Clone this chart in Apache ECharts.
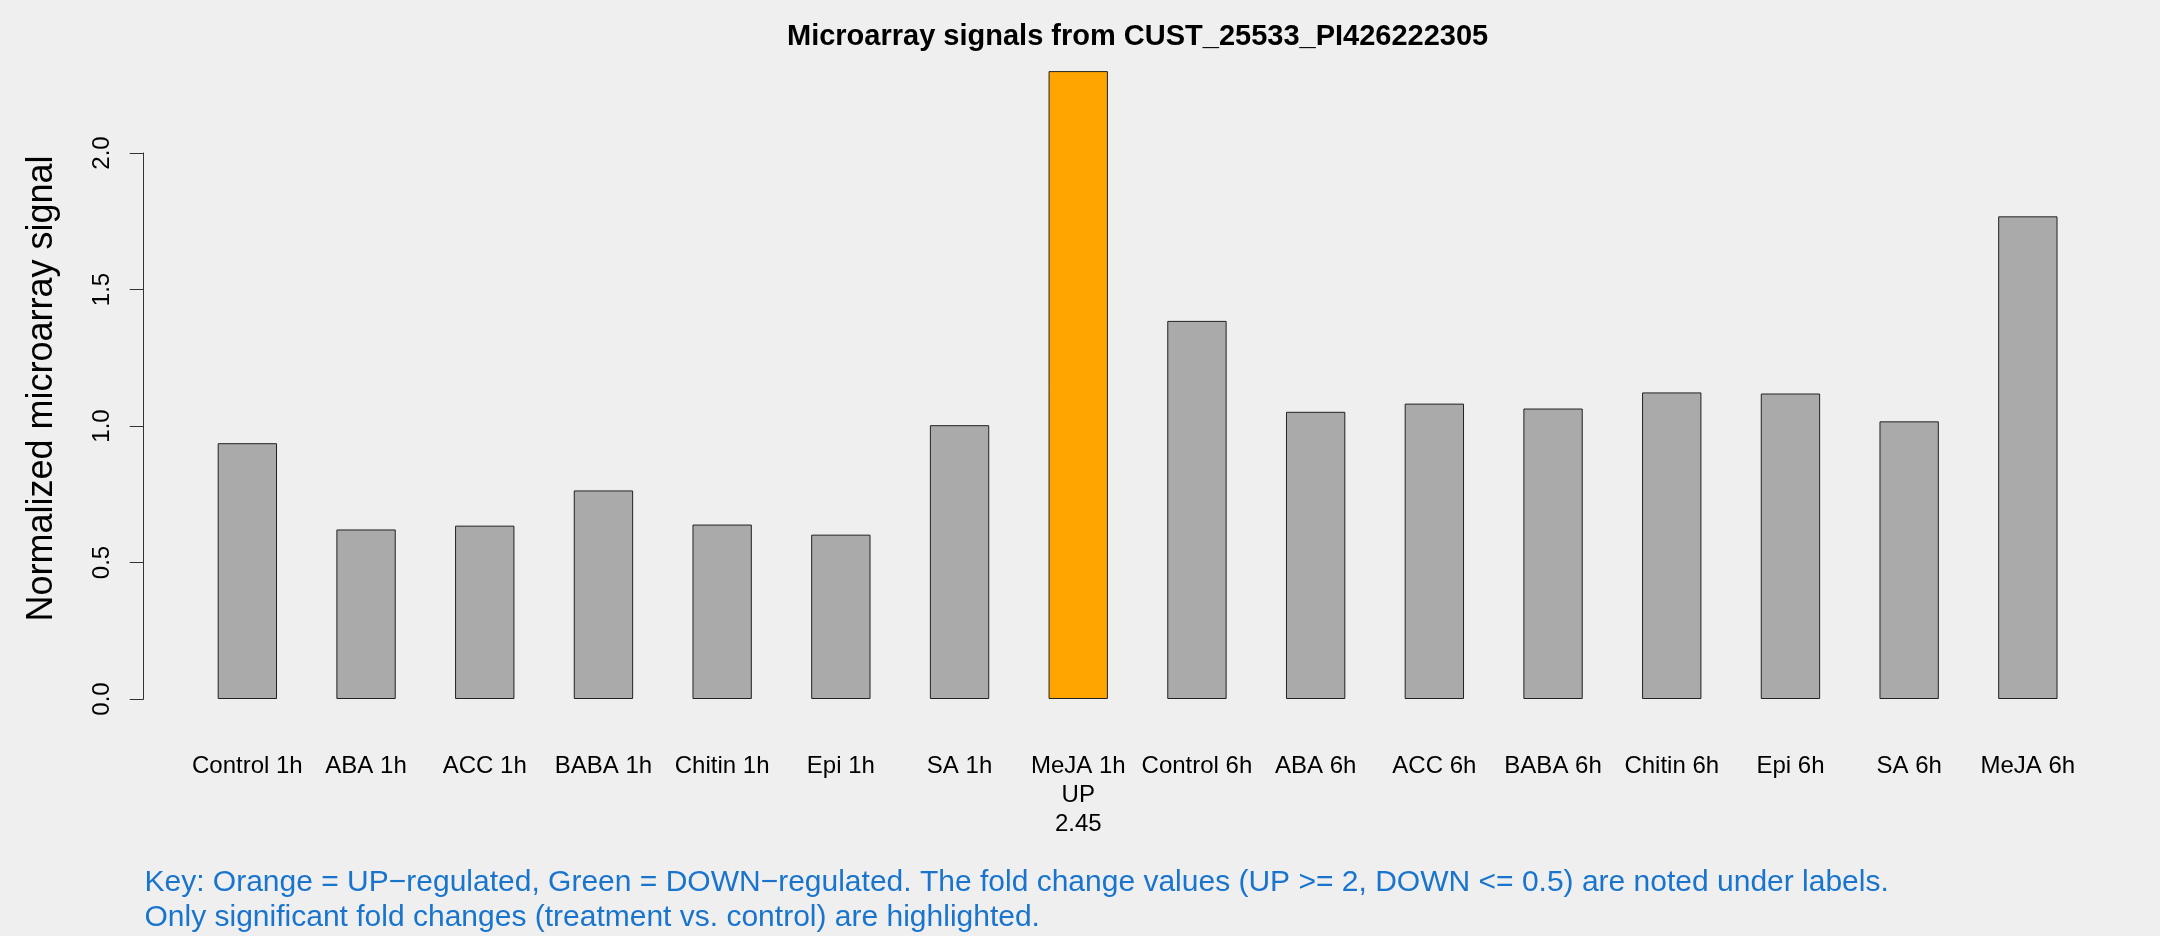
<!DOCTYPE html>
<html>
<head>
<meta charset="utf-8">
<script src="https://cdn.jsdelivr.net/npm/echarts@6/dist/echarts.min.js"></script>
<style>
html,body{margin:0;padding:0;background:#EFEFEF;}
#chart{width:2160px;height:936px;}
</style>
</head>
<body>
<div id="chart"></div>
<script>
const categories = ["Control 1h","ABA 1h","ACC 1h","BABA 1h","Chitin 1h","Epi 1h","SA 1h","MeJA 1h","Control 6h","ABA 6h","ACC 6h","BABA 6h","Chitin 6h","Epi 6h","SA 6h","MeJA 6h"];
const values = [0.937, 0.621, 0.635, 0.764, 0.639, 0.602, 1.003, 2.30, 1.385, 1.052, 1.082, 1.064, 1.123, 1.119, 1.017, 1.768];
const regulation = ["","","","","","","","UP","","","","","","","",""];
const foldChange = ["","","","","","","","2.45","","","","","","","",""];
const yTicks = [0, 0.5, 1.0, 1.5, 2.0];

const titleText = "Microarray signals from CUST_25533_PI426222305";
const yTitle = "Normalized microarray signal";
const keyText = "Key: Orange = UP\u2212regulated, Green = DOWN\u2212regulated. The fold change values (UP >= 2, DOWN <= 0.5) are noted under labels.\nOnly significant fold changes (treatment vs. control) are highlighted.";

const colorFor = r => r === "UP" ? "#FFA500" : (r === "DOWN" ? "#00A000" : "#AAAAAA");
const FONT = "Liberation Sans, Arial, Helvetica, sans-serif";

const chart = echarts.init(document.getElementById('chart'), null, {renderer: 'canvas'});
chart.setOption({
  backgroundColor: '#EFEFEF',
  animation: false,
  textStyle: {fontFamily: FONT},
  grid: {left: 188, right: 72.8, top: 153, bottom: 237, containLabel: false},
  xAxis: {
    type: 'category',
    data: categories,
    axisLine: {show: false},
    axisTick: {show: false},
    axisLabel: {
      interval: 0,
      fontSize: 24,
      fontFamily: FONT,
      color: '#000',
      lineHeight: 29,
      margin: 53,
      formatter: (v, i) => regulation[i] ? v + "\n" + regulation[i] + "\n" + foldChange[i] : v
    }
  },
  yAxis: {
    type: 'value',
    min: yTicks[0],
    max: yTicks[yTicks.length - 1],
    interval: 0.5,
    offset: 44.3,
    splitLine: {show: false},
    axisLine: {show: true, lineStyle: {color: '#333', width: 1}},
    axisTick: {show: true, length: 14, lineStyle: {color: '#333', width: 1}},
    axisLabel: {
      rotate: 90,
      fontSize: 24,
      fontFamily: FONT,
      color: '#000',
      margin: 29,
      formatter: v => v.toFixed(1)
    }
  },
  series: [{
    type: 'bar',
    clip: false,
    barCategoryGap: '50%',
    data: values.map((v, i) => ({
      value: v,
      itemStyle: {color: colorFor(regulation[i])}
    })),
    itemStyle: {borderColor: '#222', borderWidth: 1}
  }],
  graphic: [
    {
      type: 'text', x: 1137.6, y: 36.5,
      style: {text: titleText, font: 'bold 29px ' + FONT, fill: '#000', align: 'center', verticalAlign: 'middle'}
    },
    {
      type: 'text', x: 41.7, y: 388.5, rotation: Math.PI / 2,
      style: {text: yTitle, font: '36px ' + FONT, fill: '#000', align: 'center', verticalAlign: 'middle'}
    },
    {
      type: 'text', x: 144.5, y: 865.5,
      style: {text: keyText, font: '30px ' + FONT, fill: '#1874CD', align: 'left', verticalAlign: 'top', lineHeight: 35}
    }
  ]
});
</script>
</body>
</html>
